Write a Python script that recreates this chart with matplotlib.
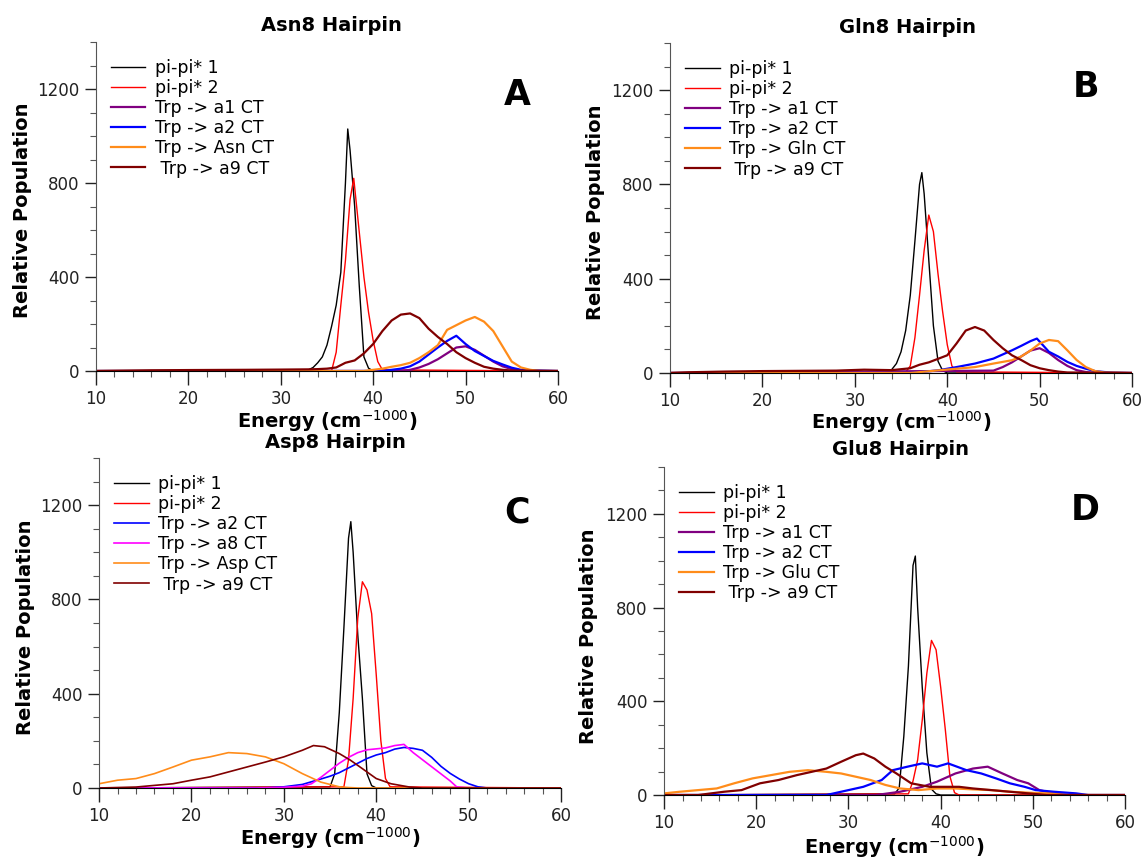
import numpy as np
import matplotlib.pyplot as plt
from matplotlib.ticker import MultipleLocator

# ---------------- Asn8 hairpin (A) ----------------
asn_pp1_e = [10, 32.5, 33, 33.5, 34, 34.5, 35, 35.5, 36, 36.5, 37, 37.25, 37.5, 38, 38.5, 39, 39.5, 40, 60]
asn_pp1_n = [0, 0, 5, 15, 35, 60, 110, 190, 280, 420, 800, 1030, 940, 700, 360, 60, 12, 0, 0]
asn_pp2_e = [10, 35.5, 36, 36.5, 37, 37.5, 37.9, 38.5, 39, 39.5, 40, 40.5, 41, 60]
asn_pp2_n = [0, 0, 80, 280, 470, 730, 820, 590, 400, 250, 130, 40, 5, 0]
asn_a1_e = [10, 43, 44, 45, 46, 47, 48, 49, 50, 51, 52, 53, 54, 55, 56, 60]
asn_a1_n = [0, 0, 5, 15, 30, 50, 75, 100, 105, 90, 65, 40, 20, 8, 2, 0]
asn_a2_e = [10, 41, 42, 43, 44, 45, 46, 47, 48, 49, 50, 51, 52, 53, 54, 55, 56, 57, 60]
asn_a2_n = [0, 0, 5, 10, 20, 40, 70, 100, 128, 150, 115, 85, 64, 43, 28, 14, 5, 2, 0]
asn_res_e = [10, 39, 40, 41, 42, 43, 44, 45, 46, 47, 48, 49, 50, 51, 52, 53, 54, 55, 56, 57, 58, 60]
asn_res_n = [0, 0, 5, 10, 18, 25, 35, 55, 80, 110, 175, 195, 215, 230, 210, 170, 105, 40, 15, 5, 0, 0]
asn_a9_e = [10, 16, 20, 26, 30, 33, 34, 35, 36, 37, 38, 39, 40, 41, 42, 43, 44, 45, 46, 47, 48, 49, 50, 51, 52, 53, 54, 55, 60]
asn_a9_n = [0, 3, 4, 5, 6, 7, 8, 10, 15, 35, 45, 75, 115, 170, 215, 240, 245, 225, 180, 145, 115, 80, 55, 35, 18, 10, 5, 2, 0]

# ---------------- Gln8 hairpin (B) ----------------
gln_pp1_e = [10, 33, 33.5, 34, 34.5, 35, 35.5, 36, 36.5, 37, 37.25, 37.5, 38, 38.5, 39, 39.5, 40, 60]
gln_pp1_n = [0, 0, 3, 15, 40, 90, 180, 330, 560, 800, 850, 760, 480, 200, 50, 10, 0, 0]
gln_pp2_e = [10, 35.5, 36, 36.5, 37, 37.5, 38, 38.5, 39, 39.5, 40, 40.5, 41, 60]
gln_pp2_n = [0, 3, 30, 150, 330, 520, 670, 600, 420, 260, 120, 30, 5, 0]
gln_a1_e = [10, 45, 46, 47, 48, 49, 50, 51, 52, 53, 54, 55, 56, 60]
gln_a1_n = [0, 10, 25, 45, 70, 95, 105, 85, 55, 30, 12, 4, 0, 0]
gln_a2_e = [10, 36, 39, 41, 43, 45, 47, 48, 49, 49.7, 51, 52, 53, 54, 55, 56, 57, 58, 60]
gln_a2_n = [0, 0, 11, 25, 40, 61, 96, 115, 135, 146, 90, 70, 47, 30, 18, 8, 4, 2, 0]
gln_res_e = [10, 36, 39, 41, 43, 45, 47, 48, 49, 50, 51, 52, 53, 54, 55, 56, 57, 60]
gln_res_n = [0, 0, 11, 18, 25, 40, 54, 70, 95, 125, 140, 135, 96, 55, 25, 8, 2, 0]
gln_a9_e = [10, 12, 16, 20, 24, 28, 31, 34, 36, 37, 38, 39, 40, 41, 42, 43, 44, 45, 46, 47, 48, 49, 50, 51, 52, 53, 60]
gln_a9_n = [0, 3, 6, 8, 9, 10, 14, 12, 20, 35, 45, 60, 75, 125, 180, 195, 180, 140, 105, 75, 55, 33, 20, 12, 6, 2, 0]

# ---------------- Asp8 hairpin (C) ----------------
asp_pp1_e = [10, 35, 35.5, 36, 36.5, 37, 37.25, 37.5, 38, 38.5, 39, 39.5, 40, 60]
asp_pp1_n = [0, 5, 60, 320, 680, 1060, 1130, 1000, 650, 380, 60, 10, 0, 0]
asp_pp2_e = [10, 36.5, 37, 37.5, 38, 38.5, 39, 39.5, 40, 40.5, 41, 41.5, 60]
asp_pp2_n = [0, 5, 120, 380, 720, 875, 840, 740, 480, 200, 40, 5, 0]
asp_a2_e = [10, 28, 30, 32, 34, 35, 36, 37, 38, 39, 40, 41, 42, 43, 44, 45, 46, 47, 48, 49, 50, 51, 52, 60]
asp_a2_n = [0, 0, 5, 15, 38, 50, 65, 85, 105, 125, 140, 150, 165, 172, 168, 160, 130, 92, 62, 38, 18, 5, 0, 0]
asp_a8_e = [10, 27, 30, 32, 33, 34, 35, 36, 37, 38, 39, 40, 41, 42, 43, 44, 45, 46, 47, 48, 48.7, 50, 60]
asp_a8_n = [0, 0, 3, 8, 18, 45, 75, 105, 130, 150, 162, 166, 170, 180, 185, 150, 120, 90, 60, 30, 5, 0, 0]
asp_res_e = [10, 12, 14, 16, 18, 20, 22, 24, 26, 28, 30, 32, 34, 36, 37, 38, 40, 60]
asp_res_n = [18, 33, 40, 61, 89, 118, 132, 150, 146, 132, 103, 61, 25, 5, 2, 0, 0, 0]
asp_a9_e = [10, 14, 18, 20, 22, 24, 26, 28, 30, 32, 33.2, 34.4, 36, 37.2, 38.5, 40, 41.6, 43.6, 45, 60]
asp_a9_n = [0, 4, 18, 33, 47, 68, 89, 110, 132, 160, 180, 175, 146, 118, 82, 40, 18, 4, 0, 0]

# ---------------- Glu8 hairpin (D) ----------------
glu_pp1_e = [10, 35, 35.5, 36, 36.5, 37, 37.25, 37.5, 38, 38.5, 39, 39.5, 40, 60]
glu_pp1_n = [0, 5, 30, 250, 550, 980, 1020, 800, 460, 180, 25, 5, 0, 0]
glu_pp2_e = [10, 36.5, 37, 37.5, 38, 38.5, 39, 39.5, 40, 40.5, 41, 41.5, 42, 60]
glu_pp2_n = [0, 5, 60, 150, 320, 520, 660, 620, 460, 280, 80, 10, 0, 0]
glu_a1_e = [10, 33, 35.6, 38, 39.6, 41.6, 43.5, 45.1, 46.7, 48.3, 49.5, 50.7, 52.3, 54, 60]
glu_a1_n = [0, 0, 14, 35, 57, 92, 113, 121, 92, 64, 50, 21, 7, 0, 0]
glu_a2_e = [10, 27.6, 30, 31.6, 33.6, 34.8, 36.4, 38, 39.6, 40.8, 42.8, 44.4, 46, 47.5, 49.1, 50.3, 52.3, 54.7, 56, 60]
glu_a2_n = [0, 0, 21, 35, 64, 106, 121, 135, 121, 135, 106, 92, 71, 50, 35, 21, 14, 7, 0, 0]
glu_res_e = [10, 11.7, 13.7, 15.7, 17.6, 19.6, 21.6, 23.6, 25.6, 27.6, 29.2, 30.8, 32.4, 34, 35.6, 37.6, 39.6, 41.6, 43.5, 45.5, 47.5, 49.5, 51.5, 53.5, 60]
glu_res_n = [7, 14, 21, 28, 50, 71, 85, 99, 106, 99, 92, 78, 64, 43, 28, 21, 28, 28, 24, 21, 14, 10, 7, 0, 0]
glu_a9_e = [10, 13.7, 16.5, 18.4, 20.4, 22.4, 24.4, 26, 27.6, 29.2, 30.8, 31.6, 32.8, 34, 35.2, 36.8, 38.8, 40.4, 42, 43.5, 45.5, 47.5, 49.5, 51.5, 60]
glu_a9_n = [0, 0, 14, 21, 50, 64, 85, 99, 113, 142, 170, 177, 156, 121, 92, 50, 35, 35, 35, 28, 21, 14, 7, 0, 0]

BLACK, RED, PURPLE, BLUE = "#000000", "#ff0000", "#800080", "#0000ff"
ORANGE, BROWN, MAGENTA = "#ff8c1a", "#800000", "#ff00ff"

# title xy, letter xy, xlabel y, ylabel xy are all in axes fractions
panels = [
    dict(title="Asn8 Hairpin", letter="A", rect=[0.0838, 0.5676, 0.4035, 0.3834],
         title_xy=(0.509, 1.049), letter_xy=(0.911, 0.839), xlab_y=-0.152, ylab_xy=(-0.160, 0.489),
         series=[
             (asn_pp1_e, asn_pp1_n, BLACK, 1.0, "pi-pi* 1"),
             (asn_pp2_e, asn_pp2_n, RED, 1.0, "pi-pi* 2"),
             (asn_a1_e, asn_a1_n, PURPLE, 1.6, "Trp -> a1 CT"),
             (asn_a2_e, asn_a2_n, BLUE, 1.6, "Trp -> a2 CT"),
             (asn_res_e, asn_res_n, ORANGE, 1.6, "Trp -> Asn CT"),
             (asn_a9_e, asn_a9_n, BROWN, 1.6, " Trp -> a9 CT"),
         ]),
    dict(title="Gln8 Hairpin", letter="B", rect=[0.5852, 0.5653, 0.4035, 0.3846],
         title_xy=(0.514, 1.048), letter_xy=(0.900, 0.867), xlab_y=-0.148, ylab_xy=(-0.162, 0.488),
         series=[
             (gln_pp1_e, gln_pp1_n, BLACK, 1.0, "pi-pi* 1"),
             (gln_pp2_e, gln_pp2_n, RED, 1.0, "pi-pi* 2"),
             (gln_a1_e, gln_a1_n, PURPLE, 1.6, "Trp -> a1 CT"),
             (gln_a2_e, gln_a2_n, BLUE, 1.6, "Trp -> a2 CT"),
             (gln_res_e, gln_res_n, ORANGE, 1.6, "Trp -> Gln CT"),
             (gln_a9_e, gln_a9_n, BROWN, 1.6, " Trp -> a9 CT"),
         ]),
    dict(title="Asp8 Hairpin", letter="C", rect=[0.0865, 0.0816, 0.4035, 0.3846],
         title_xy=(0.511, 1.048), letter_xy=(0.905, 0.836), xlab_y=-0.152, ylab_xy=(-0.159, 0.488),
         series=[
             (asp_pp1_e, asp_pp1_n, BLACK, 1.0, "pi-pi* 1"),
             (asp_pp2_e, asp_pp2_n, RED, 1.0, "pi-pi* 2"),
             (asp_a2_e, asp_a2_n, BLUE, 1.2, "Trp -> a2 CT"),
             (asp_a8_e, asp_a8_n, MAGENTA, 1.2, "Trp -> a8 CT"),
             (asp_res_e, asp_res_n, ORANGE, 1.2, "Trp -> Asp CT"),
             (asp_a9_e, asp_a9_n, BROWN, 1.2, " Trp -> a9 CT"),
         ]),
    dict(title="Glu8 Hairpin", letter="D", rect=[0.5800, 0.0734, 0.4026, 0.3823],
         title_xy=(0.512, 1.052), letter_xy=(0.914, 0.869), xlab_y=-0.159, ylab_xy=(-0.165, 0.485),
         series=[
             (glu_pp1_e, glu_pp1_n, BLACK, 1.0, "pi-pi* 1"),
             (glu_pp2_e, glu_pp2_n, RED, 1.0, "pi-pi* 2"),
             (glu_a1_e, glu_a1_n, PURPLE, 1.6, "Trp -> a1 CT"),
             (glu_a2_e, glu_a2_n, BLUE, 1.6, "Trp -> a2 CT"),
             (glu_res_e, glu_res_n, ORANGE, 1.6, "Trp -> Glu CT"),
             (glu_a9_e, glu_a9_n, BROWN, 1.6, " Trp -> a9 CT"),
         ]),
]

fig = plt.figure(figsize=(11.45, 8.58), dpi=100)

for p in panels:
    ax = fig.add_axes(p["rect"])
    for e, n, color, lw, label in p["series"]:
        ax.plot(e, n, color=color, lw=lw, label=label)

    ax.set_xlim(10, 60)
    ax.set_ylim(0, 1400)
    ax.xaxis.set_major_locator(MultipleLocator(10))
    ax.xaxis.set_minor_locator(MultipleLocator(2))
    ax.yaxis.set_major_locator(MultipleLocator(400))
    ax.yaxis.set_minor_locator(MultipleLocator(100))
    ax.spines["top"].set_visible(False)
    ax.spines["right"].set_visible(False)
    ax.spines["left"].set_color("#555555")
    ax.tick_params(which="major", width=1, labelsize=12, colors="#222222")
    ax.tick_params(axis="x", which="major", length=10, pad=4)
    ax.tick_params(axis="y", which="major", length=8, pad=4)
    ax.tick_params(which="minor", length=4.5, width=0.8, color="#555555")

    ax.text(*p["title_xy"], p["title"], transform=ax.transAxes, fontsize=14,
            fontweight="bold", ha="center", va="center")
    ax.set_xlabel("Energy (cm$^{-1000}$)", fontsize=14, fontweight="bold", va="center")
    ax.xaxis.set_label_coords(0.5, p["xlab_y"])
    ax.set_ylabel("Relative Population", fontsize=14, fontweight="bold", va="center")
    ax.yaxis.set_label_coords(*p["ylab_xy"])

    ax.legend(loc="upper left", bbox_to_anchor=(0.032, 0.948), frameon=False,
              fontsize=12.5, handlelength=2.0, handletextpad=0.55,
              labelspacing=0.12, borderaxespad=0.0, borderpad=0.0)
    ax.text(*p["letter_xy"], p["letter"], transform=ax.transAxes, fontsize=25,
            fontweight="bold", ha="center", va="center")

fig.savefig("out.png", dpi=100)
